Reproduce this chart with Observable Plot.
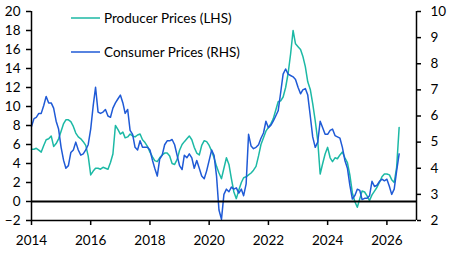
<!DOCTYPE html>
<html><head><meta charset="utf-8">
<script src="https://cdn.jsdelivr.net/npm/d3@7"></script>
<script src="https://cdn.jsdelivr.net/npm/@observablehq/plot@0.6"></script>
<style>body{margin:0;background:#fff}#chart{width:452px;height:254px}</style>
</head><body><div id="chart"></div>
<script>
// Monthly data starting January 2014
const startYear = 2014;
const producerPrices = [
  5.5, 5.5, 5.6, 5.4, 5.2, 5.9, 6.5, 6.6, 6.9, 5.8, 6.1, 6.6,
  7.4, 8.2, 8.6, 8.6, 8.4, 7.9, 7.2, 6.8, 6.6, 6.3, 5.9, 4.8,
  2.8, 3.2, 3.5, 3.5, 3.4, 3.6, 3.5, 3.4, 4.1, 5.0, 8.0, 7.6,
  7.1, 7.3, 6.7, 6.8, 7.1, 6.9, 6.8, 7.0, 7.1, 6.5, 6.2, 5.8,
  5.2, 4.7, 4.3, 4.2, 4.6, 4.9, 5.1, 5.1, 4.8, 4.0, 3.9, 4.4,
  5.4, 6.0, 6.3, 6.6, 6.9, 6.5, 5.7, 5.1, 4.9, 5.9, 6.4, 6.3,
  5.9, 5.3, 4.6, 3.7, 3.0, 2.4, 3.5, 4.6, 3.9, 2.4, 1.0, 0.3,
  1.2, 2.0, 2.5, 2.6, 2.8, 3.0, 3.3, 3.7, 4.8, 6.0, 6.7, 7.4,
  7.8, 8.2, 8.7, 9.6, 10.5, 10.6, 11.0, 12.0, 13.5, 15.5, 18.0, 16.6,
  16.3, 16.0, 15.3, 14.2, 12.6, 11.8, 10.3, 8.5, 6.4, 2.9, 4.0, 5.0,
  5.7, 4.6, 4.2, 4.6, 4.5, 4.9, 5.2, 4.6, 4.1, 2.8, 0.9, 0.0,
  -0.6, 0.3, 1.1, 1.0, 0.6, 0.1, 0.7, 1.1, 1.5, 2.0, 2.6, 2.9,
  2.9, 2.8, 2.3, 2.0, 3.6, 7.8
];
const consumerPrices = [
  5.6, 5.9, 5.95, 6.1, 6.1, 6.4, 6.75, 6.5, 6.5, 6.3, 5.8, 5.5,
  4.8, 4.3, 4.0, 4.1, 4.6, 4.7, 5.0, 4.7, 4.5, 4.55, 4.7, 4.9,
  5.5, 6.4, 7.1, 6.15, 6.1, 6.15, 6.25, 6.0, 5.95, 6.3, 6.5, 6.65,
  6.8, 6.5, 6.1, 6.25, 5.45, 5.3, 4.8, 4.7, 5.05, 4.8, 4.8, 4.8,
  4.7, 4.3, 4.0, 3.7, 4.35, 4.5, 4.9, 5.05, 5.05, 5.1, 4.9, 4.5,
  4.1, 3.95, 4.5, 4.4, 4.55, 4.4, 4.0, 4.3, 4.0, 3.7, 3.6, 3.9,
  4.3, 4.7, 4.5, 3.7, 2.4, 2.05, 3.0, 3.2, 3.1, 3.28, 3.2, 3.25,
  3.05, 3.2, 2.95, 3.4, 5.3, 4.85, 4.75, 4.8, 4.9, 5.15, 5.35, 5.8,
  5.55, 5.65, 5.8, 6.0, 6.2, 6.9, 7.6, 7.8, 7.6, 7.55, 7.5, 7.4,
  7.1, 6.85, 7.0, 7.05, 6.8, 6.0, 5.2, 4.8, 5.0, 5.8, 5.55, 5.3,
  5.3, 5.45, 5.5, 5.25, 5.2, 5.15, 4.8, 4.3, 4.0, 3.35, 2.82, 2.95,
  3.2, 3.15, 2.8, 2.85, 2.85, 2.95, 3.5, 3.3, 3.35, 3.5, 3.58, 3.52,
  3.58, 3.3, 3.0, 3.2, 3.9, 4.55
];
const seriesNames = ["Producer Prices (LHS)", "Consumer Prices (RHS)"];
const seriesColors = ["#1cb9a5", "#1f5ad6"];
const leftTicks = [-2, 0, 2, 4, 6, 8, 10, 12, 14, 16, 18, 20];
const rightTicks = [2, 3, 4, 5, 6, 7, 8, 9, 10];
const yearTicks = [2014, 2016, 2018, 2020, 2022, 2024, 2026];
const xEndYear = 2027;

const L = [leftTicks[0], leftTicks[leftTicks.length - 1]];
const R = [rightTicks[0], rightTicks[rightTicks.length - 1]];
const toLeft = r => L[0] + (r - R[0]) * (L[1] - L[0]) / (R[1] - R[0]);
const fromLeft = l => R[0] + (l - L[0]) * (R[1] - R[0]) / (L[1] - L[0]);
const monthDate = i => new Date(Date.UTC(startYear, i, 1));
const yearDate = y => new Date(Date.UTC(y, 0, 1));

const ppi = producerPrices.map((v, i) => ({date: monthDate(i), value: v}));
const cpi = consumerPrices.map((v, i) => ({date: monthDate(i), value: toLeft(v)}));
const xDomain = [yearDate(startYear), yearDate(xEndYear)];
const FONT = "Lato, 'Open Sans', sans-serif";

const chart = Plot.plot({
  width: 452, height: 254,
  marginLeft: 31, marginRight: 36, marginTop: 11, marginBottom: 34,
  style: {fontFamily: FONT, fontSize: "13.5px", color: "#000", background: "#fff"},
  x: {type: "utc", domain: xDomain, label: null},
  y: {domain: L, label: null},
  marks: [
    Plot.line(ppi, {x: "date", y: "value", stroke: seriesColors[0], strokeWidth: 1.5}),
    Plot.line(cpi, {x: "date", y: "value", stroke: seriesColors[1], strokeWidth: 1.5}),
    Plot.ruleY([0], {stroke: "#000", strokeWidth: 2}),
    Plot.ruleY([L[0]], {stroke: "#000", strokeWidth: 1.5}),
    Plot.ruleX(xDomain, {stroke: "#000", strokeWidth: 1.5}),
    Plot.axisX(yearTicks.map(yearDate), {tickFormat: d => String(d.getUTCFullYear()), tickSize: 5, tickPadding: 10, strokeWidth: 1.5, label: null}),
    Plot.axisY(leftTicks, {anchor: "left", tickSize: 5, tickPadding: 6, strokeWidth: 1.5, label: null}),
    Plot.axisY(rightTicks.map(toLeft), {anchor: "right", tickFormat: d => String(Math.round(fromLeft(d))), tickSize: 4, tickPadding: 10, strokeWidth: 1.5, label: null, textAnchor: "start"})
  ]
});

// Legend inside the plot area
const svg = d3.select(chart);
const legend = svg.append("g").attr("font-family", FONT).attr("font-size", 13.5).attr("text-anchor", "start");
const legendRows = [18, 52];
seriesNames.forEach((name, i) => {
  legend.append("line").attr("x1", 71).attr("x2", 100).attr("y1", legendRows[i]).attr("y2", legendRows[i])
    .attr("stroke", seriesColors[i]).attr("stroke-width", 1.5);
  legend.append("text").attr("x", 104).attr("y", legendRows[i]).attr("dy", "0.35em")
    .attr("text-anchor", "start").attr("fill", "#000").text(name);
});
document.getElementById("chart").appendChild(chart);
</script>
</body></html>
